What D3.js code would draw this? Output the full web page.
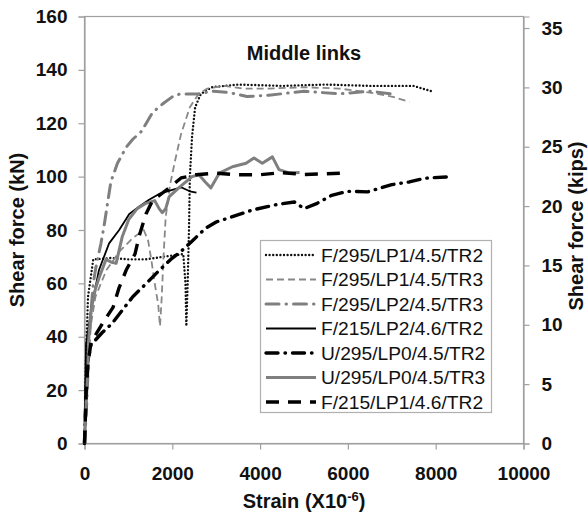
<!DOCTYPE html>
<html lang="en">
<head>
<meta charset="utf-8">
<script src="https://cdnjs.cloudflare.com/ajax/libs/d3/7.8.5/d3.min.js"></script>
<style>
  body { margin: 0; background: #fff; }
  text { font-family: "Liberation Sans", Arial, sans-serif; }
</style>
</head>
<body>
<script>
var w = 588, h = 518;

// strain (x10^-6), shear force (kN)
var f295lp1tr2 = [[0,0],[30,30],[80,55],[200,69],[600,69.5],[1000,69],[1400,69],[1800,70],[2250,71],
  [2300,60],[2320,44],[2350,60],[2380,80],[2400,100],[2450,115],[2520,126],[2650,131],[2900,133.5],
  [3500,134.5],[4500,134],[5500,134.5],[6500,134],[7500,134],[7900,132]];
var f295lp1tr3 = [[0,0],[40,20],[100,40],[250,55],[500,65],[800,72],[1100,77],[1350,80],[1450,76],
  [1530,68],[1600,60],[1680,52],[1720,44],[1760,55],[1800,70],[1850,85],[1950,97],[2050,105],
  [2200,116],[2400,126],[2600,131],[2800,133],[3200,134],[3600,133],[4200,133],[5000,133.5],
  [5800,133],[6500,131.5],[7000,130],[7400,128]];
var f295lp2tr3 = [[0,0],[50,15],[100,35],[150,50],[200,60],[260,66],[375,75],[450,82],[600,98],
  [750,105],[950,111],[1100,114],[1300,117],[1550,124],[1800,127.5],[2050,130.5],[2200,131],
  [2600,131],[2900,132],[3300,131.5],[3700,130],[4200,130.5],[5000,132],[5800,131],[6500,132],[7000,131]];
var f215lp2tr2 = [[0,0],[20,20],[35,37],[170,52],[330,65],[560,75],[790,80],[1020,86],[1240,88.7],
  [1470,91.3],[1700,93.5],[2000,95],[2200,96],[2400,94.5],[2550,94]];
var u295lp0tr2 = [[0,0],[30,15],[60,30],[150,37],[400,41.5],[630,45],[1100,55],[1410,60],[1710,65],
  [2000,69.5],[2200,72],[2430,75.5],[2760,80.7],[3000,83],[3370,85],[3830,87.5],[4370,89.5],
  [4780,90.5],[5000,88],[5300,90],[5630,93],[6000,94.5],[6450,94.3],[7000,97],[7400,98],
  [7750,99.4],[8370,100]];
var u295lp0tr3 = [[0,0],[40,15],[80,30],[100,40],[150,50],[250,58],[330,62],[490,69],[600,68],
  [720,67.5],[860,77.5],[1010,84],[1200,88],[1400,90],[1600,91],[1700,88],[1770,86.5],[1850,88],
  [1930,92.5],[2160,96],[2450,100],[2610,100.7],[2750,98],[2880,95.8],[3070,101.3],[3370,103.7],
  [3680,105],[3860,107],[4050,105],[4280,107.4],[4430,102.6],[4660,101.4],[4900,101.5]];
var f215lp1tr2 = [[0,0],[40,20],[80,30],[150,38],[300,42],[450,46],[650,51],[780,58],[950,65],
  [1150,71],[1250,78],[1400,86],[1550,91],[1930,95.8],[2200,99.5],[2540,100.7],[3000,101.3],
  [3460,100.7],[4000,100.7],[4500,101.5],[5000,100.8],[5400,101],[5870,101.3]];

var names = ["F/295/LP1/4.5/TR2", "F/295/LP1/4.5/TR3", "F/295/LP2/4.5/TR3", "F/215/LP2/4.6/TR2",
  "U/295/LP0/4.5/TR2", "U/295/LP0/4.5/TR3", "F/215/LP1/4.6/TR2"];
var series = [f295lp1tr2, f295lp1tr3, f295lp2tr3, f215lp2tr2, u295lp0tr2, u295lp0tr3, f215lp1tr2];

var xTicks = [0, 2000, 4000, 6000, 8000, 10000];
var yTicks = [0, 20, 40, 60, 80, 100, 120, 140, 160];
var yRTicks = [0, 5, 10, 15, 20, 25, 30, 35];
var KIPS = 4.448;

// line styles per series
var styles = [
  { color: "#111", width: 2.4, dash: "0,3.6", cap: "round" },
  { color: "#888", width: 1.8, dash: "7,4", cap: "butt" },
  { color: "#7f7f7f", width: 3, dash: "13,7,0.5,7", cap: "round" },
  { color: "#000", width: 1.8, dash: null, cap: "butt" },
  { color: "#000", width: 3.4, dash: "12,7,0.5,7", cap: "round" },
  { color: "#7f7f7f", width: 3, dash: null, cap: "butt" },
  { color: "#000", width: 3.4, dash: "13,9", cap: "butt" }
];

var pl = 84.5, pr = 523.5, pt = 16.5, pb = 443.5;

var x = d3.scaleLinear().domain([0, 10000]).range([pl, pr]);
var y = d3.scaleLinear().domain([0, 160]).range([pb, pt]);
var yR = d3.scaleLinear().domain([0, 160 / KIPS]).range([pb, pt]);

var svg = d3.select("body").append("svg")
  .attr("width", w).attr("height", h);

// plot border
svg.append("rect")
  .attr("x", pl).attr("y", pt)
  .attr("width", pr - pl).attr("height", pb - pt)
  .attr("fill", "none").attr("stroke", "#a0a0a0").attr("stroke-width", 1.2);

var fontTick = "19px";

var gx = svg.append("g").attr("transform", "translate(0," + pb + ")")
  .call(d3.axisBottom(x).tickValues(xTicks).tickSize(6).tickPadding(17).tickFormat(d3.format("d")));
var gy = svg.append("g").attr("transform", "translate(" + pl + ",0)")
  .call(d3.axisLeft(y).tickValues(yTicks).tickSize(6).tickPadding(11));
var gyR = svg.append("g").attr("transform", "translate(" + pr + ",0)")
  .call(d3.axisRight(yR).tickValues(yRTicks).tickSize(6).tickPadding(12));

[gx, gy, gyR].forEach(function (g) {
  g.select(".domain").attr("stroke", "#a0a0a0").attr("stroke-width", 1.2);
  g.selectAll(".tick line").attr("stroke", "#a0a0a0").attr("stroke-width", 1.2);
  g.selectAll(".tick text")
    .attr("fill", "#111")
    .style("font-family", "'Liberation Sans', Arial, sans-serif")
    .style("font-size", fontTick)
    .style("font-weight", "bold");
});

// series
var line = d3.line().x(function (d) { return x(d[0]); }).y(function (d) { return y(d[1]); });

series.forEach(function (s, i) {
  var st = styles[i];
  svg.append("path")
    .attr("d", line(s))
    .attr("fill", "none")
    .attr("stroke", st.color)
    .attr("stroke-width", st.width)
    .attr("stroke-linecap", st.cap)
    .attr("stroke-linejoin", "round")
    .attr("stroke-dasharray", st.dash);
});

// title
svg.append("text")
  .attr("x", 304).attr("y", 60)
  .attr("text-anchor", "middle")
  .style("font-size", "20px").style("font-weight", "bold")
  .attr("fill", "#111")
  .text("Middle links");

// axis titles
svg.append("text")
  .attr("transform", "translate(24,230) rotate(-90)")
  .attr("text-anchor", "middle")
  .style("font-size", "20px").style("font-weight", "bold")
  .attr("fill", "#111")
  .text("Shear force (kN)");

svg.append("text")
  .attr("transform", "translate(583,226) rotate(-90)")
  .attr("text-anchor", "middle")
  .style("font-size", "20px").style("font-weight", "bold")
  .attr("fill", "#111")
  .text("Shear force (kips)");

var xt = svg.append("text")
  .attr("x", 304).attr("y", 508)
  .attr("text-anchor", "middle")
  .style("font-size", "20px").style("font-weight", "bold")
  .attr("fill", "#111");
xt.append("tspan").text("Strain (X10");
xt.append("tspan").attr("dy", -7).style("font-size", "13px").text("-6");
xt.append("tspan").attr("dy", 7).text(")");

// legend
var lg = svg.append("g");
lg.append("rect")
  .attr("x", 260.5).attr("y", 240.5)
  .attr("width", 231).attr("height", 172)
  .attr("fill", "#fff").attr("stroke", "#b0b0b0").attr("stroke-width", 1.2);

var rowY = d3.scaleLinear().domain([0, 6]).range([255, 402]);

names.forEach(function (n, i) {
  var st = styles[i];
  var cy = rowY(i);
  lg.append("line")
    .attr("x1", 266).attr("x2", 316)
    .attr("y1", cy).attr("y2", cy)
    .attr("stroke", st.color)
    .attr("stroke-width", st.width)
    .attr("stroke-linecap", st.cap)
    .attr("stroke-dasharray", st.dash);
  lg.append("text")
    .attr("x", 321).attr("y", cy + 6.5)
    .style("font-size", "19.2px")
    .attr("fill", "#111")
    .text(n);
});
</script>
</body>
</html>
